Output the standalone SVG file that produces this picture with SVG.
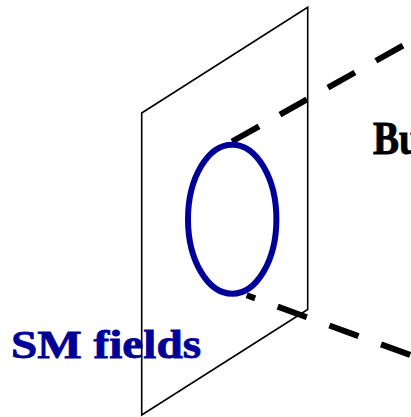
<svg xmlns="http://www.w3.org/2000/svg" width="411" height="417" viewBox="0 0 411 417">
<style>
.lbl{font-family:"Liberation Serif","Times New Roman",serif;font-weight:bold;stroke-width:0.8}
.dash{fill:none;stroke:#000;stroke-width:6;stroke-dasharray:31 24}
</style>
<rect width="411" height="417" fill="#fff"/>
<g id="label-sm">
<text class="lbl" x="11" y="358" font-size="39" fill="#000099" stroke="#000099" textLength="190" lengthAdjust="spacingAndGlyphs">SM fields</text>
</g>
<g id="label-bulk">
<text class="lbl" transform="translate(373,154) scale(1,1.21)" x="0" y="0" font-size="39" fill="#000" stroke="#000">Bu</text>
</g>
<g id="plane">
<polygon points="141.7,113 307.7,7.3 307.7,309.5 141.7,415" fill="none" stroke="#000" stroke-width="1.6"/>
</g>
<g id="connectors">
<line class="dash" x1="232" y1="141.5" x2="420" y2="36"/>
<line class="dash" x1="246.7" y1="295.3" x2="420" y2="358.6" stroke-dashoffset="22"/>
</g>
<g id="brane-loop">
<ellipse cx="232.2" cy="219.2" rx="44.2" ry="74.5" fill="none" stroke="#000099" stroke-width="6"/>
</g>
</svg>
